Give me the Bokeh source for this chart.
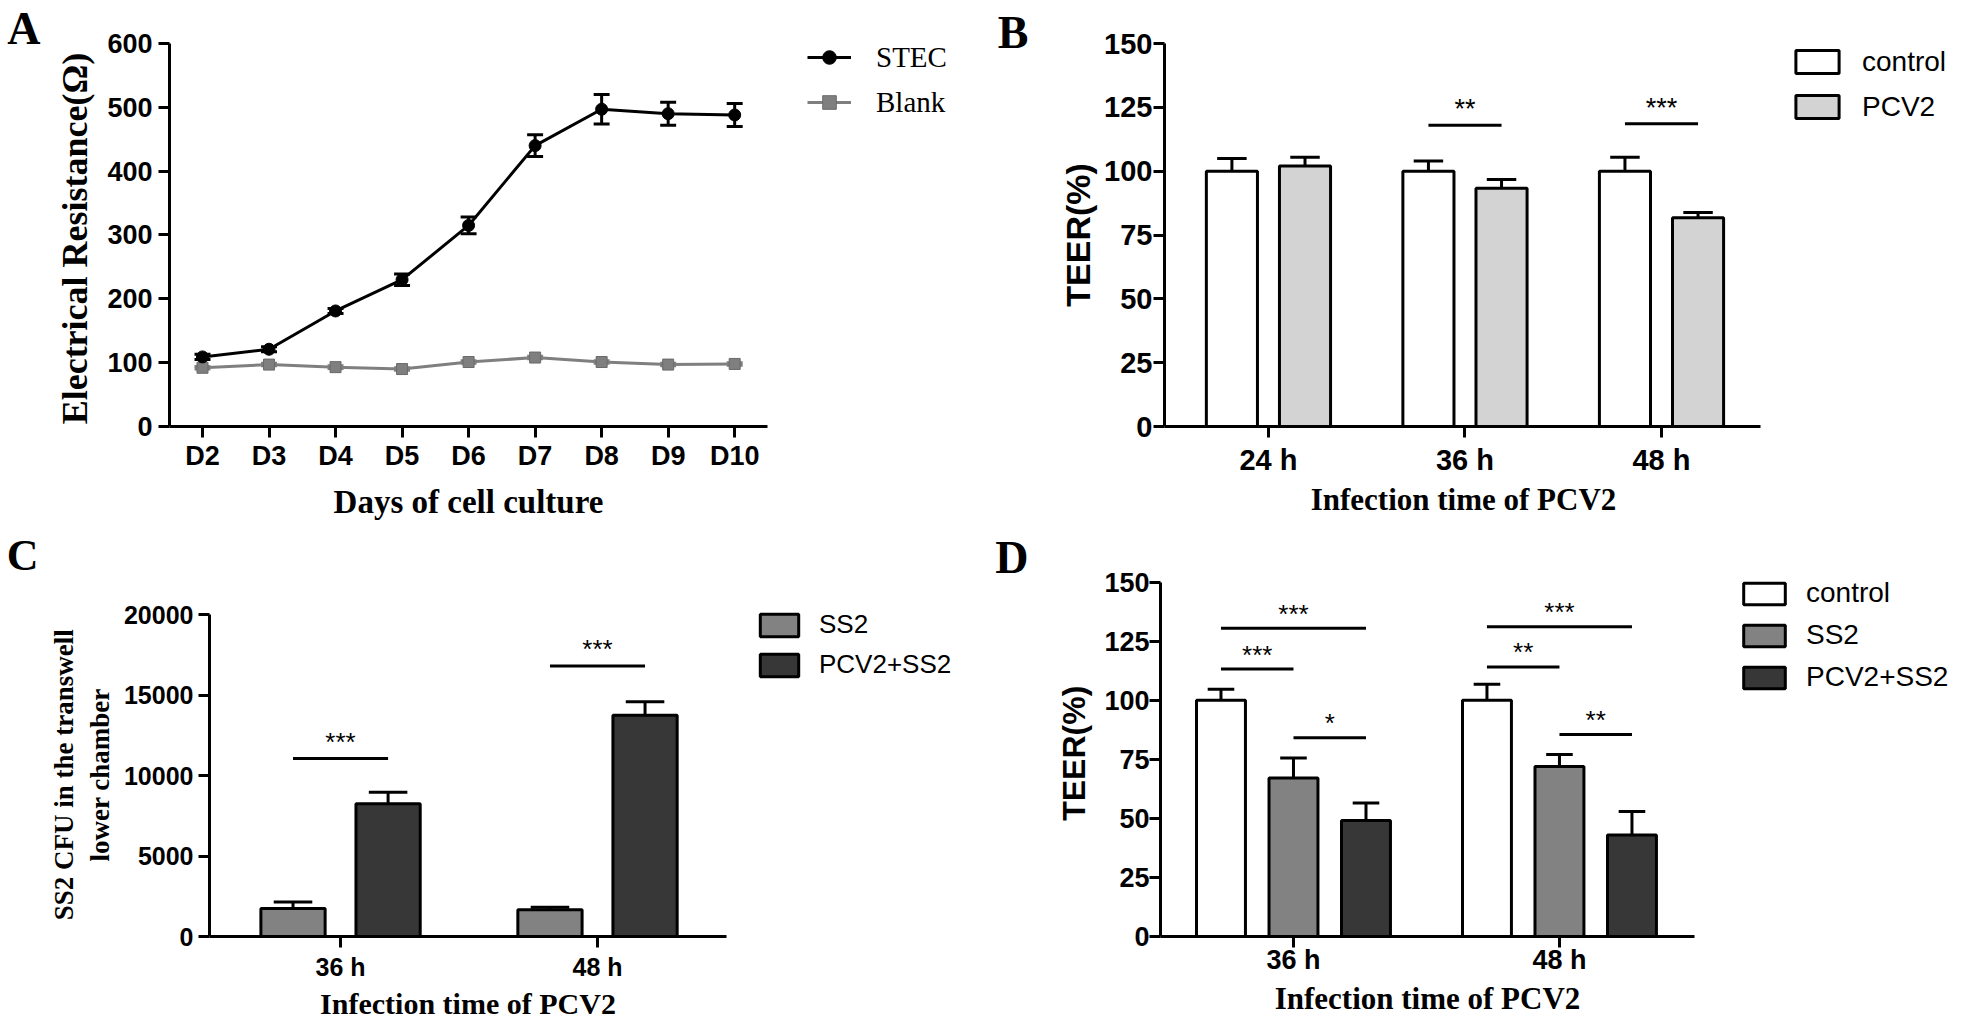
from bokeh.plotting import figure
from bokeh.models import (ColumnDataSource, Range1d, FixedTicker, LinearAxis,
                          Legend, LegendItem)
from bokeh.transform import dodge
from bokeh.layouts import row, column
from bokeh.embed import file_html
from bokeh.resources import INLINE
from bokeh.core.properties import value

# ---------------- data ----------------
# Panel A
days = ["D2", "D3", "D4", "D5", "D6", "D7", "D8", "D9", "D10"]
stec = [109, 121, 181, 230, 315, 440, 497, 490, 488]
stec_err = [4, 4, 4, 9, 13, 17, 23, 18, 18]
blank = [92, 97, 93, 90, 101, 108, 101, 97, 98]
blank_err = [2, 2, 2, 2, 2, 2, 2, 2, 2]
a_yticks = [0, 100, 200, 300, 400, 500, 600]

# Panel B
times_b = ["24 h", "36 h", "48 h"]
b_control = [100, 100, 100]
b_control_err = [5.0, 4.0, 5.5]
b_pcv2 = [102, 93.3, 81.8]
b_pcv2_err = [3.5, 3.4, 2.0]
b_sig_idx = [1, 2]
b_sig_line = [118, 118.6]
b_sig_text = ["**", "***"]
b_yticks = [0, 25, 50, 75, 100, 125, 150]

# Panel C
times_cd = ["36 h", "48 h"]
c_ss2 = [1740, 1660]
c_ss2_err = [400, 160]
c_pcv2ss2 = [8260, 13760]
c_pcv2ss2_err = [710, 830]
c_sig_idx = [0, 1]
c_sig_line = [11070, 16820]
c_sig_text = ["***", "***"]
c_yticks = [0, 5000, 10000, 15000, 20000]

# Panel D
d_control = [100, 100]
d_control_err = [4.6, 6.8]
d_ss2 = [67.1, 72.0]
d_ss2_err = [8.5, 5.0]
d_pcv2ss2 = [49.1, 43.0]
d_pcv2ss2_err = [7.4, 9.9]
d_sig_long = [130.5, 131.1]
d_sig_long_text = ["***", "***"]
d_sig_cs = [113.2, 114.1]
d_sig_cs_text = ["***", "**"]
d_sig_sp = [84.1, 85.5]
d_sig_sp_text = ["*", "**"]
d_yticks = [0, 25, 50, 75, 100, 125, 150]

SANS = "Liberation Sans"
SERIF = "Liberation Serif"
WHITE = "#ffffff"
LIGHT = "#d3d3d3"
MID = "#828282"
DARK = "#373737"
NB = "\u00a0"  # padding that centres the y title on the drawn axis span


def base_fig(width, height, borders, xr, yr, xbounds, ybounds, yticks, xlabels):
    l, r, t, b = borders
    p = figure(x_range=Range1d(*xr), y_range=Range1d(*yr),
               width=width, height=height, output_backend="svg",
               toolbar_location=None, min_border_left=l, min_border_right=r,
               min_border_top=t, min_border_bottom=b)
    p.xgrid.visible = False
    p.ygrid.visible = False
    p.outline_line_color = None
    p.yaxis.ticker = FixedTicker(ticks=yticks)
    p.xaxis.ticker = FixedTicker(ticks=list(range(len(xlabels))))
    p.xaxis.major_label_overrides = {i: s for i, s in enumerate(xlabels)}
    p.xaxis.bounds = xbounds
    p.yaxis.bounds = ybounds
    for ax in (p.xaxis[0], p.yaxis[0]):
        ax.axis_line_width = 3
        ax.axis_line_color = "black"
        ax.major_tick_line_width = 3
        ax.major_tick_line_color = "black"
        ax.major_tick_in = 0
        ax.major_tick_out = 11
        ax.minor_tick_line_color = None
        ax.major_label_text_font = SANS
        ax.major_label_text_font_style = "bold"
        ax.major_label_text_color = "black"
        ax.axis_label_text_color = "black"
        ax.axis_label_text_font_style = "bold"
    return p


def set_labels(p, tick_px, ylab, yfont, ysize, x_ls, y_ls, y_als):
    p.xaxis.major_label_text_font_size = f"{tick_px}px"
    p.yaxis.major_label_text_font_size = f"{tick_px}px"
    p.yaxis.axis_label = ylab
    p.yaxis.axis_label_text_font = yfont
    p.yaxis.axis_label_text_font_size = f"{ysize}px"
    p.xaxis.major_label_standoff = x_ls
    p.yaxis.major_label_standoff = y_ls
    p.yaxis.axis_label_standoff = y_als


def x_title(p, txt, px_range, px_pos, size, standoff):
    # x title drawn as the single tick label of an extra axis, centred under the drawn axis
    p.extra_x_ranges = {"xl": Range1d(*px_range)}
    ax = LinearAxis(x_range_name="xl", ticker=FixedTicker(ticks=[px_pos]),
                    major_label_overrides={px_pos: txt}, axis_line_color=None,
                    major_tick_line_color=None, major_tick_in=0, major_tick_out=0,
                    minor_tick_line_color=None, major_label_standoff=standoff,
                    major_label_text_font=SERIF, major_label_text_font_style="bold",
                    major_label_text_font_size=f"{size}px",
                    major_label_text_color="black")
    p.add_layout(ax, "below")


def bar_series(p, vals, errs, off, w, cap, color):
    hi = [v + e for v, e in zip(vals, errs)]
    src = ColumnDataSource(dict(x=list(range(len(vals))), top=vals, hi=hi))
    r = p.vbar(x=dodge("x", off), top="top", width=w, source=src,
               fill_color=color, line_color="black", line_width=3)
    p.segment(x0=dodge("x", off), y0="top", x1=dodge("x", off), y1="hi",
              source=src, line_color="black", line_width=3)
    p.segment(x0=dodge("x", off - cap / 2), y0="hi", x1=dodge("x", off + cap / 2),
              y1="hi", source=src, line_color="black", line_width=3)
    return r


def sig(p, idx, ys, texts, o1, o2, lift, size):
    src = ColumnDataSource(dict(x=idx, y=ys, txt=texts))
    p.segment(x0=dodge("x", o1), y0="y", x1=dodge("x", o2), y1="y", source=src,
              line_color="black", line_width=3)
    p.text(x=dodge("x", (o1 + o2) / 2), y="y", text="txt", source=src,
           text_font=value(SANS), text_font_size=f"{size}px", text_color="black",
           text_align="center", text_baseline="middle", y_offset=-lift)


def legend(p, items, x, y, font, size, gw, gh, lh, spacing, standoff):
    lg = Legend(items=items, location=(x, y), orientation="vertical",
                padding=0, margin=0, spacing=spacing, glyph_width=gw,
                glyph_height=gh, label_height=lh, label_standoff=standoff,
                border_line_color=None, background_fill_alpha=0,
                label_text_font=font, label_text_font_size=f"{size}px",
                label_text_color="black")
    p.add_layout(lg, "center")


def letter(p, txt, px_range, px_pos, size, standoff):
    # panel letter drawn as the single tick label of an extra, invisible left axis
    p.extra_y_ranges = {"lbl": Range1d(*px_range)}
    ax = LinearAxis(y_range_name="lbl", ticker=FixedTicker(ticks=[px_pos]),
                    major_label_overrides={px_pos: txt}, axis_line_color=None,
                    major_tick_line_color=None, major_tick_in=0, major_tick_out=0,
                    minor_tick_line_color=None, major_label_standoff=standoff,
                    major_label_text_font=SERIF, major_label_text_font_style="bold",
                    major_label_text_font_size=f"{size}px",
                    major_label_text_color="black")
    p.add_layout(ax, "left")


# ---------------- Panel A ----------------
pA = base_fig(980, 525, (169, 5, 5, 99), (-0.496, 11.62), (0, 659.5),
              (-0.496, 8.5), (0, 600), a_yticks, days)
set_labels(pA, 27, "Electrical Resistance(Ω)" + NB * 5, SERIF, 36, 3, 6, 9)
x_title(pA, "Days of cell culture", (169, 975), 468, 33, 10)
srcA = ColumnDataSource(dict(
    x=list(range(len(days))), stec=stec, blank=blank,
    s_lo=[v - e for v, e in zip(stec, stec_err)], s_hi=[v + e for v, e in zip(stec, stec_err)],
    b_lo=[v - e for v, e in zip(blank, blank_err)], b_hi=[v + e for v, e in zip(blank, blank_err)]))
capA = 0.24
for lo, hi, col in (("s_lo", "s_hi", "black"), ("b_lo", "b_hi", "#7f7f7f")):
    pA.segment(x0="x", y0=lo, x1="x", y1=hi, source=srcA, line_color=col, line_width=3)
    for yy in (lo, hi):
        pA.segment(x0=dodge("x", -capA / 2), y0=yy, x1=dodge("x", capA / 2), y1=yy,
                   source=srcA, line_color=col, line_width=3)
lb = pA.line(x="x", y="blank", source=srcA, line_color="#7f7f7f", line_width=3)
sb = pA.scatter(x="x", y="blank", source=srcA, marker="square", size=11,
                fill_color="#7f7f7f", line_color="#6a6a6a")
ls = pA.line(x="x", y="stec", source=srcA, line_color="black", line_width=3)
ss = pA.scatter(x="x", y="stec", source=srcA, marker="circle", size=12,
                fill_color="black", line_color="black")
legend(pA, [LegendItem(label="STEC", renderers=[ls, ss]),
            LegendItem(label="Blank", renderers=[lb, sb])],
       638, 307, SERIF, 29, 44, 34, 34, 11, 25)
pA.legend.label_text_font_style = "normal"
letter(pA, "A", (426, 5), 28, 46, 12)

# ---------------- Panel B ----------------
pB = base_fig(980, 525, (184, 5, 5, 99), (-0.529, 3.496), (0, 164.9),
              (-0.529, 2.504), (0, 150), b_yticks, times_b)
set_labels(pB, 29, "TEER(%)" + NB * 4, SANS, 34, 6, 1, 4)
x_title(pB, "Infection time of PCV2", (1164, 1955), 1463, 31, 3)
wB, oB, capB = 0.26, 0.186, 0.15
rb1 = bar_series(pB, b_control, b_control_err, -oB, wB, capB, WHITE)
rb2 = bar_series(pB, b_pcv2, b_pcv2_err, oB, wB, capB, LIGHT)
sig(pB, b_sig_idx, b_sig_line, b_sig_text, -oB, oB, 16, 27)
legend(pB, [LegendItem(label="control", renderers=[rb1]),
            LegendItem(label="PCV2", renderers=[rb2])],
       626, 303, SANS, 28, 54, 29, 33, 12, 18)
letter(pB, "B", (426, 5), 32, 46, 28)

# ---------------- Panel C ----------------
pC = base_fig(980, 497, (209, 5, 0, 83), (-0.51, 2.471), (0, 25556),
              (-0.51, 1.502), (0, 20000), c_yticks, times_cd)
set_labels(pC, 25, "SS2 CFU in the transwell" + NB * 13 + "\nlower chamber" + NB * 13,
           SERIF, 27, 5, 5, 6)
x_title(pC, "Infection time of PCV2", (209, 975), 467.5, 30, 3)
wC, oC, capC = 0.25, 0.185, 0.15
rc1 = bar_series(pC, c_ss2, c_ss2_err, -oC, wC, capC, MID)
rc2 = bar_series(pC, c_pcv2ss2, c_pcv2ss2_err, oC, wC, capC, DARK)
sig(pC, c_sig_idx, c_sig_line, c_sig_text, -oC, oC, 16.5, 26)
legend(pC, [LegendItem(label="SS2", renderers=[rc1]),
            LegendItem(label="PCV2+SS2", renderers=[rc2])],
       546, 256, SANS, 26, 48, 28, 30, 9, 16)
letter(pC, "C", (414, 0), 19, 44, 7)

# ---------------- Panel D ----------------
pD = base_fig(980, 497, (180, 5, 0, 83), (-0.5, 2.489), (0, 173.95),
              (-0.5, 1.508), (0, 150), d_yticks, times_cd)
set_labels(pD, 27, "TEER(%)" + NB * 5, SANS, 32, -3, 0, 9)
x_title(pD, "Infection time of PCV2", (1160, 1955), 1427, 31, 3)
wD, oD, capD = 0.184, 0.2726, 0.1
rd1 = bar_series(pD, d_control, d_control_err, -oD, wD, capD, WHITE)
rd2 = bar_series(pD, d_ss2, d_ss2_err, 0.0, wD, capD, MID)
rd3 = bar_series(pD, d_pcv2ss2, d_pcv2ss2_err, oD, wD, capD, DARK)
cats_d = list(range(len(times_cd)))
sig(pD, cats_d, d_sig_long, d_sig_long_text, -oD, oD, 14.5, 26)
sig(pD, cats_d, d_sig_cs, d_sig_cs_text, -oD, 0.0, 14.5, 26)
sig(pD, cats_d, d_sig_sp, d_sig_sp_text, 0.0, oD, 14.5, 26)
legend(pD, [LegendItem(label="control", renderers=[rd1]),
            LegendItem(label="SS2", renderers=[rd2]),
            LegendItem(label="PCV2+SS2", renderers=[rd3])],
       578, 243, SANS, 28, 52, 27, 32, 10, 16)
letter(pD, "D", (414, 0), 32, 46, 25)

layout = column(row(pA, pB), row(pC, pD))
open("out.html", "w").write(file_html(layout, INLINE, title="TEER figure"))
